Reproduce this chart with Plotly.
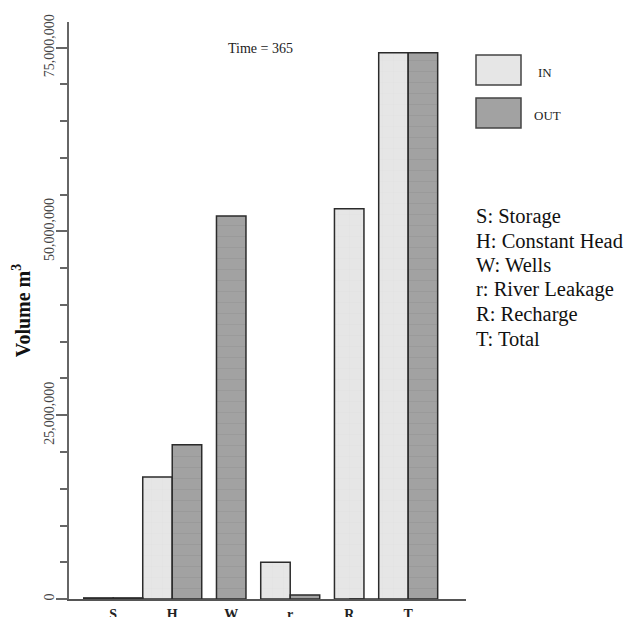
import plotly.graph_objects as go

categories = ["S", "H", "W", "r", "R", "T"]
vol_in = [150000, 16600000, 0, 5000000, 53100000, 74300000]
vol_out = [150000, 21000000, 52100000, 550000, 0, 74300000]
series_names = ["IN", "OUT"]
notes = ["S: Storage", "H: Constant Head", "W: Wells", "r: River Leakage", "R: Recharge", "T: Total"]
time_label = "Time = 365"

W, H = 629, 617
L, R, T, B = 69, 163, 22, 18
pw, ph = W - L - R, H - T - B

def px(x):
    return (x - L) / pw

def py(y):
    return (H - B - y) / ph

SERIF = "Liberation Serif, Times New Roman, serif"
bw = 0.5
off_in = [-bw if o > 0 else -bw / 2 for o in vol_out]
off_out = [0 if i > 0 else -bw / 2 for i in vol_in]

fill_in, fill_out = "#e6e6e6", "#a2a2a2"
edge = "#2b2b2b"

fig = go.Figure()
fig.add_trace(go.Bar(x=categories, y=vol_in, name=series_names[0], width=bw, offset=off_in,
                     marker=dict(color=fill_in, line=dict(color=edge, width=1.5),
                                 pattern=dict(shape="+", size=11, fgcolor="#d6d6d6", bgcolor=fill_in, solidity=0.05))))
fig.add_trace(go.Bar(x=categories, y=vol_out, name=series_names[1], width=bw, offset=off_out,
                     marker=dict(color=fill_out, line=dict(color=edge, width=1.5),
                                 pattern=dict(shape="-", size=11, fgcolor="#8e8e8e", bgcolor=fill_out, solidity=0.08))))

fig.update_layout(
    width=W, height=H, barmode="overlay", showlegend=False,
    margin=dict(l=L, r=R, t=T, b=B, pad=0, autoexpand=False),
    paper_bgcolor="white", plot_bgcolor="white",
    font=dict(family=SERIF, color="#333"),
)
fig.update_xaxes(type="category", range=[-0.75, 5.98], showline=True, linecolor="#555", linewidth=1.5,
                 showgrid=False, zeroline=False, ticks="", ticklabelstandoff=1, automargin=False,
                 tickfont=dict(family=SERIF, size=14, color="#222", weight="bold"))
fig.update_yaxes(range=[0, 78.5e6], showline=True, linecolor="#666", linewidth=1.5, automargin=False,
                 showgrid=False, zeroline=False, tickmode="linear", tick0=0, dtick=25e6,
                 ticks="outside", ticklen=11, tickwidth=1.5, tickcolor="#666", ticklabelstandoff=-3,
                 tickformat=",d", tickangle=-90, tickfont=dict(family=SERIF, size=14, color="#444"),
                 minor=dict(dtick=5e6, ticks="outside", ticklen=7, tickwidth=1.5, tickcolor="#666"),
                 title=dict(text="Volume m<sup>3</sup>", standoff=6,
                            font=dict(family=SERIF, size=20, color="#111", weight="bold")))

fig.add_annotation(text=time_label, xref="paper", yref="paper", x=px(260), y=py(39),
                   showarrow=False, font=dict(family=SERIF, size=14, color="#222"))

# legend boxes
for i, (name, col) in enumerate(zip(series_names, [fill_in, fill_out])):
    y0 = 55 + i * 43
    fig.add_shape(type="rect", xref="paper", yref="paper", x0=px(476), x1=px(521), y0=py(y0), y1=py(y0 + 30),
                  fillcolor=col, line=dict(color="#444", width=1.5))
    fig.add_annotation(text=name, xref="paper", yref="paper", x=px(532 if i else 536), y=py(y0 + 8),
                       xanchor="left", showarrow=False, font=dict(family=SERIF, size=13, color="#222"))

for i, line in enumerate(notes):
    fig.add_annotation(text=line, xref="paper", yref="paper", x=px(474), y=py(216 + i * 24.6),
                       xanchor="left", showarrow=False, font=dict(family=SERIF, size=20.5, color="#111"))

fig.write_html("out.html")
